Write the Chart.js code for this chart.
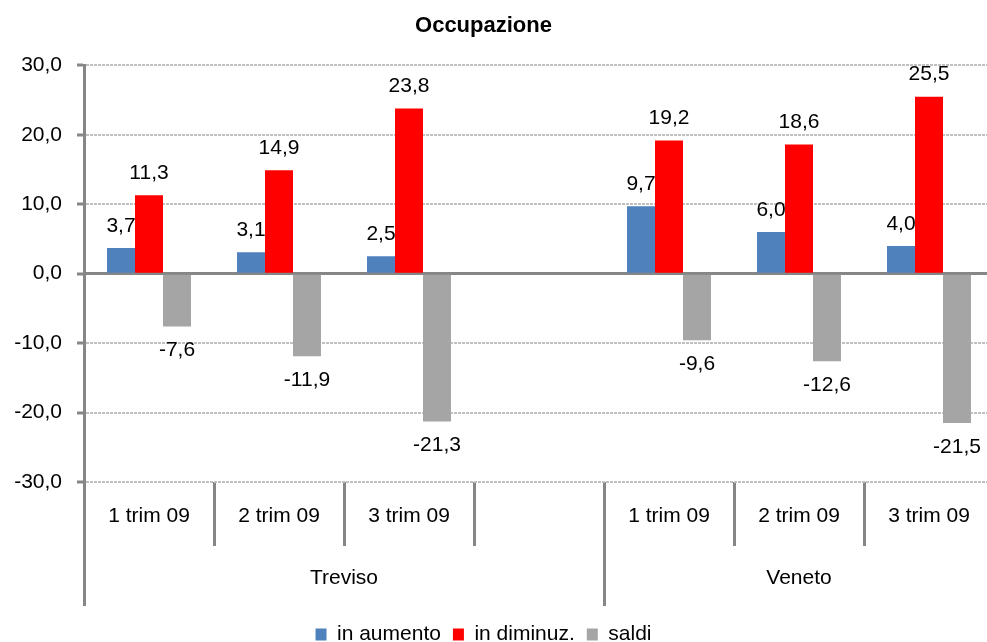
<!DOCTYPE html>
<html>
<head>
<meta charset="utf-8">
<script src="https://cdn.jsdelivr.net/npm/chart.js@4.4.0/dist/chart.umd.min.js"></script>
<style>
    html, body { margin: 0; padding: 0; background: #fff; overflow: hidden; }
    #wrap { width: 1000px; height: 655px; }
</style>
</head>
<body>
<div id="wrap"><canvas id="occChart" width="1000" height="655"></canvas></div>
<script>
// Data
const categories = ['1 trim 09', '2 trim 09', '3 trim 09', '', '1 trim 09', '2 trim 09', '3 trim 09'];
const groups = ['Treviso', 'Veneto'];
const groupCenters = [1.5, 5];        // where each group label sits, in category units
const groupBounds = [-0.5, 3.5, 6.5];  // group separators
const inAumento = [3.7, 3.1, 2.5, null, 9.7, 6.0, 4.0];
const inDiminuz = [11.3, 14.9, 23.8, null, 19.2, 18.6, 25.5];
const saldi = [-7.6, -11.9, -21.3, null, -9.6, -12.6, -21.5];
const yTicks = [-30, -20, -10, 0, 10, 20, 30];

const AXIS_GREY = '#868686';
const fmt = v => Number(v).toFixed(1).replace('.', ',');

Chart.defaults.font.family = '"Liberation Sans", Arial, sans-serif';
Chart.defaults.font.size = 21;
Chart.defaults.color = '#000';

// Draw values above / below each bar
const valueLabels = {
    id: 'valueLabels',
    afterDatasetsDraw(chart) {
        const ctx = chart.ctx;
        ctx.save();
        ctx.font = '21px "Liberation Sans", Arial, sans-serif';
        ctx.fillStyle = '#000';
        ctx.textAlign = 'center';
        ctx.textBaseline = 'middle';
        chart.data.datasets.forEach((ds, i) => {
            chart.getDatasetMeta(i).data.forEach((bar, j) => {
                const v = ds.data[j];
                if (v === null) return;
                const y = v >= 0 ? bar.y - 22 : bar.y + 24;
                ctx.fillText(fmt(v), bar.x, y);
            });
        });
        ctx.restore();
    }
};

const ctx = document.getElementById('occChart').getContext('2d');
new Chart(ctx, {
    type: 'bar',
    data: {
        labels: categories,
        datasets: [
            { label: 'in aumento', data: inAumento, backgroundColor: '#4F81BD' },
            { label: 'in diminuz.', data: inDiminuz, backgroundColor: '#FF0000' },
            { label: 'saldi', data: saldi, backgroundColor: '#A5A5A5' }
        ]
    },
    options: {
        responsive: false,
        animation: false,
        events: [],
        categoryPercentage: 0.646,
        barPercentage: 1.0,
        layout: { padding: { left: -27, right: 6, top: 0, bottom: 0 } },
        plugins: {
            title: {
                display: true,
                text: 'Occupazione',
                color: '#000',
                font: { size: 22, weight: 'bold' },
                padding: { top: 13, bottom: 26 }
            },
            legend: {
                position: 'bottom',
                labels: {
                    boxWidth: 11,
                    boxHeight: 12,
                    padding: 12,
                    color: '#000',
                    font: { size: 21 }
                }
            },
            tooltip: { enabled: false }
        },
        scales: {
            x: {
                type: 'category',
                position: 'bottom',
                weight: 0,
                border: { display: false },
                grid: {
                    offset: true,
                    drawOnChartArea: false,
                    tickLength: 64,
                    color: AXIS_GREY,
                    lineWidth: 3
                },
                ticks: { padding: -42, autoSkip: false, maxRotation: 0, color: '#000' },
                afterFit: s => { s.height = 48; }
            },
            x2: {
                type: 'linear',
                position: 'bottom',
                axis: 'x',
                weight: 1,
                min: -0.5,
                max: 6.5,
                offset: false,
                afterBuildTicks: s => {
                    s.ticks = [...groupBounds, ...groupCenters].sort((a, b) => a - b).map(v => ({ value: v }));
                },
                border: { display: false },
                grid: {
                    offset: false,
                    drawOnChartArea: false,
                    tickLength: 76,
                    lineWidth: 3,
                    color: c => (c.tick && groupCenters.includes(c.tick.value)) ? 'transparent' : AXIS_GREY
                },
                ticks: {
                    padding: -40,
                    autoSkip: false,
                    maxRotation: 0,
                    color: '#000',
                    callback: v => {
                        const k = groupCenters.indexOf(v);
                        return k >= 0 ? groups[k] : '';
                    }
                },
                afterFit: s => { s.height = 82; }
            },
            y: {
                min: -30,
                max: 30,
                afterBuildTicks: s => { s.ticks = yTicks.map(v => ({ value: v })); },
                border: { color: AXIS_GREY, width: 3, dash: [3, 1] },
                grid: {
                    color: c => (c.tick && c.tick.value === 0) ? 'transparent' : '#C0C0C0',
                    lineWidth: 2,
                    tickLength: 7,
                    tickColor: AXIS_GREY,
                    tickWidth: 3
                },
                ticks: { padding: 15, color: '#000', callback: v => fmt(v) },
                afterFit: s => { s.width = 111; }
            },
            y2: {
                position: 'right',
                min: -30,
                max: 30,
                z: 1,
                afterBuildTicks: s => { s.ticks = [{ value: 0 }]; },
                border: { display: false },
                grid: { color: AXIS_GREY, lineWidth: 3, drawTicks: false },
                ticks: { display: false },
                afterFit: s => { s.width = 0; }
            }
        }
    },
    plugins: [valueLabels]
});
</script>
</body>
</html>
